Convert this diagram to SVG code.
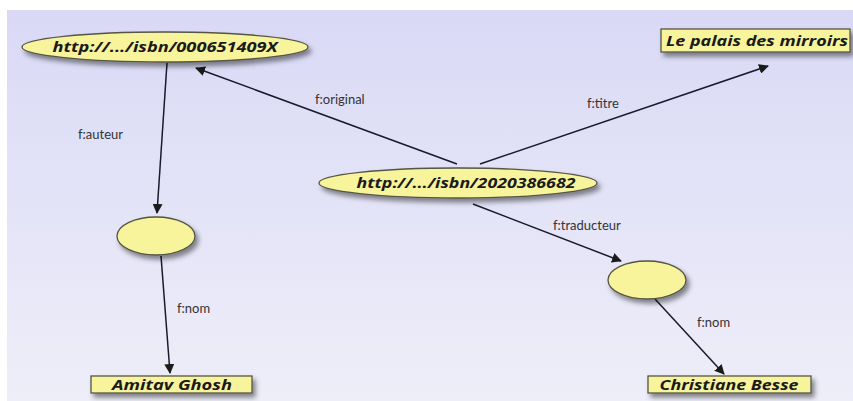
<svg xmlns="http://www.w3.org/2000/svg" width="853" height="401" viewBox="0 0 853 401">
<defs>
<linearGradient id="bg" x1="0" y1="0" x2="0" y2="1">
<stop offset="0" stop-color="#d9d9f6"/>
<stop offset="1" stop-color="#eeeef9"/>
</linearGradient>
<filter id="sh" x="-20%" y="-40%" width="140%" height="200%">
<feDropShadow dx="3" dy="4" stdDeviation="2.5" flood-color="#000" flood-opacity="0.45"/>
</filter>
<marker id="ah" viewBox="0 0 10 10" refX="9" refY="5" markerWidth="10" markerHeight="10" markerUnits="userSpaceOnUse" orient="auto">
<path d="M0,0 L10,5 L0,10 z" fill="#1a1a1a"/>
</marker>
<style>
.node{fill:#f7f49c;stroke:#555544;stroke-width:1.3;filter:url(#sh)}
.nt{font-family:"Open Sans",Lato,"Liberation Sans",sans-serif;font-weight:bold;font-style:italic;font-size:14px;fill:#1a1a1a;text-anchor:middle}
.edge{stroke:#1a1a2e;stroke-width:1.5;fill:none;marker-end:url(#ah)}
.el{font-family:Lato,"Open Sans","Liberation Sans",sans-serif;font-size:13px;fill:#333}
</style>
</defs>
<rect x="0" y="0" width="853" height="401" fill="#fff"/>
<rect x="7" y="10" width="846" height="391" fill="url(#bg)"/>
<g id="connectors">
<line class="edge" x1="457" y1="164" x2="196" y2="68"/>
<line class="edge" x1="480" y1="164" x2="768" y2="66"/>
<line class="edge" x1="167" y1="63" x2="157" y2="213"/>
<line class="edge" x1="161" y1="256" x2="170" y2="373"/>
<line class="edge" x1="473" y1="204" x2="621" y2="261"/>
<line class="edge" x1="655" y1="299" x2="724" y2="374"/>
<text class="el" x="315" y="104">f:original</text>
<text class="el" x="587" y="108">f:titre</text>
<text class="el" x="78" y="139">f:auteur</text>
<text class="el" x="553" y="230">f:traducteur</text>
<text class="el" x="177" y="313">f:nom</text>
<text class="el" x="697" y="327">f:nom</text>
</g>
<g id="n_isbn1">
<ellipse class="node" cx="165" cy="47" rx="143" ry="15"/>
<text class="nt" x="165" y="52" textLength="225" lengthAdjust="spacingAndGlyphs">http://.../isbn/000651409X</text>
</g>
<g id="n_titre">
<rect class="node" x="661" y="29" width="189" height="23"/>
<text class="nt" x="757" y="46" textLength="182" lengthAdjust="spacingAndGlyphs">Le palais des mirroirs</text>
</g>
<g id="n_isbn2">
<ellipse class="node" cx="458" cy="183" rx="139" ry="15"/>
<text class="nt" x="466" y="188" textLength="219" lengthAdjust="spacingAndGlyphs">http://.../isbn/2020386682</text>
</g>
<g id="n_blank1">
<ellipse class="node" cx="156" cy="236" rx="39" ry="19"/>
</g>
<g id="n_blank2">
<ellipse class="node" cx="647" cy="280" rx="39" ry="19"/>
</g>
<g id="n_amitav">
<rect class="node" x="91" y="376" width="161" height="17"/>
<text class="nt" x="172" y="390" textLength="120" lengthAdjust="spacingAndGlyphs">Amitav Ghosh</text>
</g>
<g id="n_christiane">
<rect class="node" x="648" y="376" width="163" height="17"/>
<text class="nt" x="729" y="390" textLength="139" lengthAdjust="spacingAndGlyphs">Christiane Besse</text>
</g>
</svg>
